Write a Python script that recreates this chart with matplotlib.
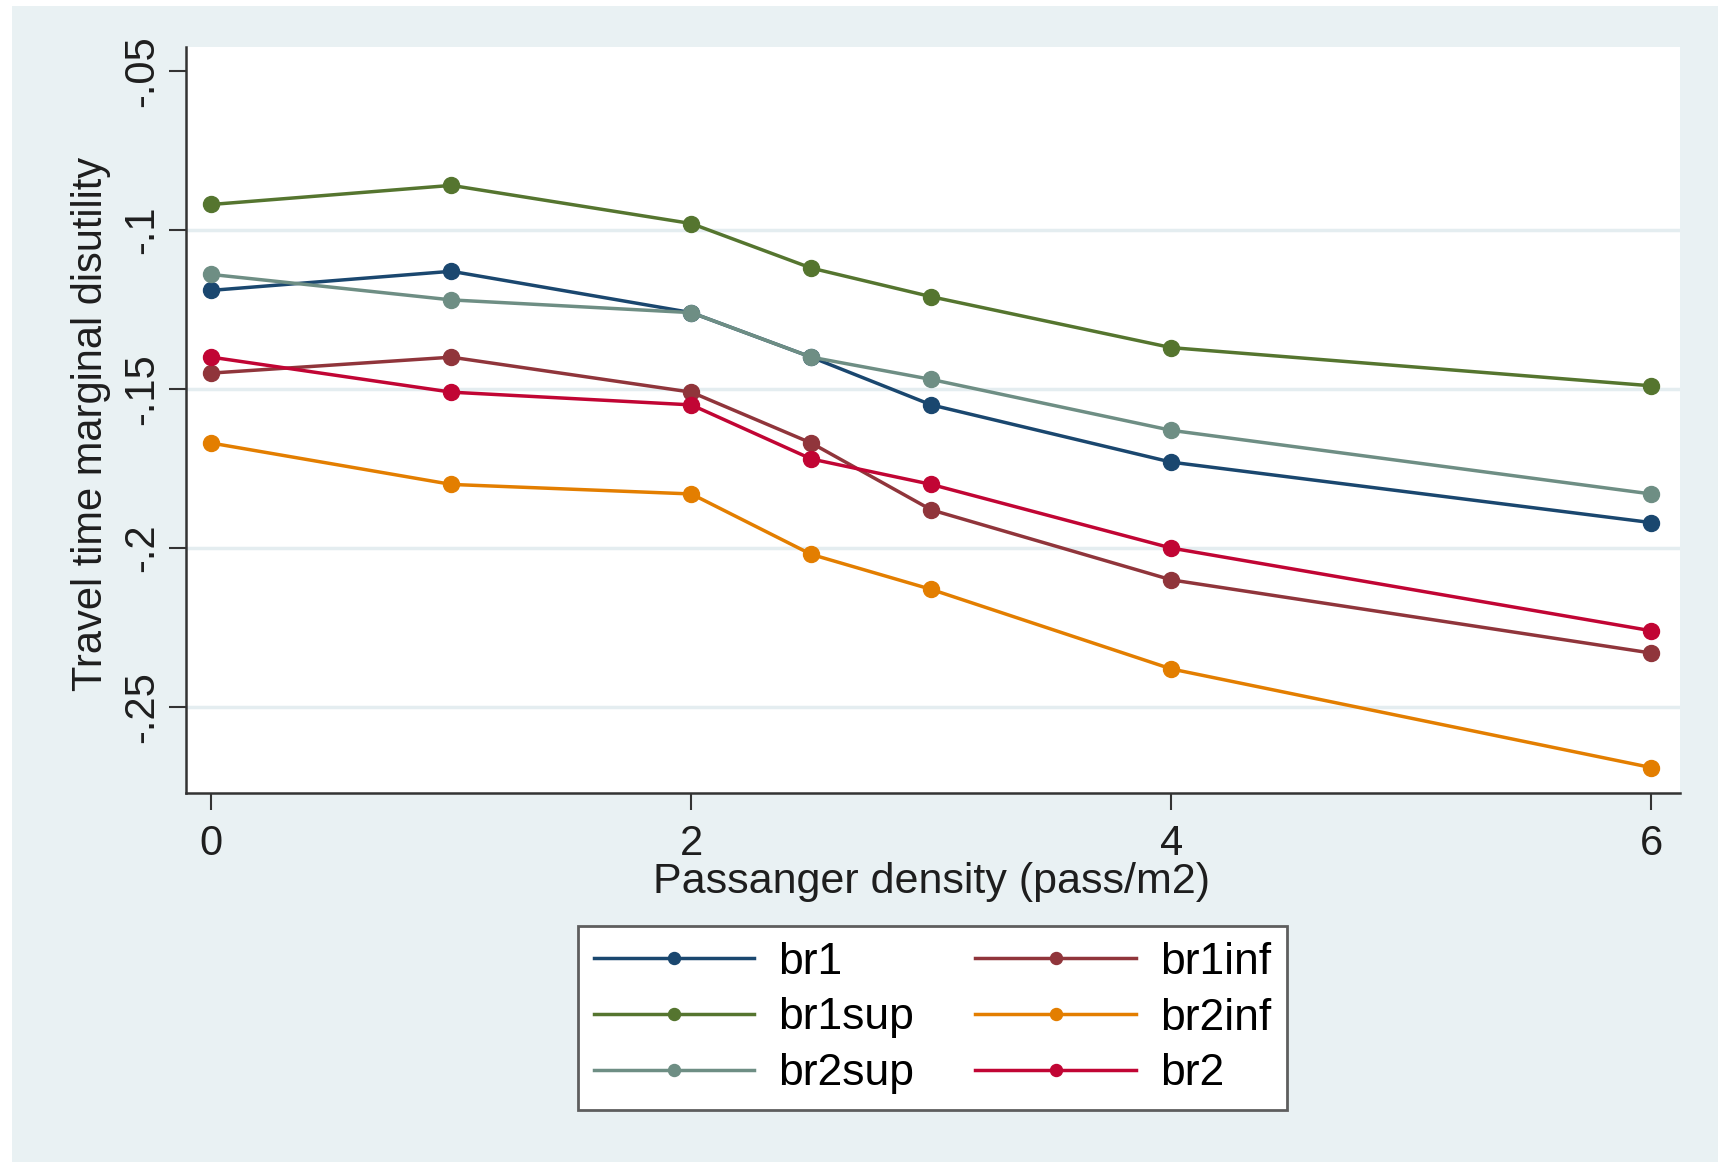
import matplotlib
matplotlib.use("Agg")
import matplotlib.pyplot as plt
from matplotlib.patches import Rectangle

# Passenger density values on the x axis
density = [0, 1, 2, 2.5, 3, 4, 6]

# Travel time marginal disutility for each model
br1 = [-0.119, -0.113, -0.126, -0.140, -0.155, -0.173, -0.192]
br1inf = [-0.145, -0.140, -0.151, -0.167, -0.188, -0.210, -0.233]
br1sup = [-0.092, -0.086, -0.098, -0.112, -0.121, -0.137, -0.149]
br2inf = [-0.167, -0.180, -0.183, -0.202, -0.213, -0.238, -0.269]
br2sup = [-0.114, -0.122, -0.126, -0.140, -0.147, -0.163, -0.183]
br2 = [-0.140, -0.151, -0.155, -0.172, -0.180, -0.200, -0.226]

y_ticks = [-0.05, -0.1, -0.15, -0.2, -0.25]
y_tick_labels = ["-.05", "-.1", "-.15", "-.2", "-.25"]
x_ticks = [0, 2, 4, 6]

plt.rcParams["font.family"] = ["Liberation Sans", "DejaVu Sans"]
fs = 30
txt = "#1E1E1E"
bg = "#E9F1F3"

fig = plt.figure(figsize=(17.18, 11.62), dpi=100)
# outer graph region, kept behind the axes
fig.patches.append(Rectangle((12 / 1718, 0), 1, 1156 / 1162, transform=fig.transFigure,
                             facecolor=bg, edgecolor="none", zorder=-10))

ax = fig.add_axes([186 / 1718, 1 - 793 / 1162, 1494 / 1718, 746 / 1162])
ax.set_facecolor("white")

# light horizontal grid, none at the top label
for yv in y_ticks[1:]:
    ax.axhline(yv, color="#E4EDF0", linewidth=2.5, zorder=1)

# plotted in the same order the legend lists them (two columns)
series = [
    ("br1", br1, "#1A476F"),
    ("br1sup", br1sup, "#55752F"),
    ("br2sup", br2sup, "#6E8E84"),
    ("br1inf", br1inf, "#90353B"),
    ("br2inf", br2inf, "#E37E00"),
    ("br2", br2, "#C10534"),
]
for name, vals, col in series:
    ax.plot(density, vals, color=col, linewidth=2.5, marker="o", markersize=11.5,
            label=name, zorder=3)

ax.set_xlim(-0.106, 6.12)
ax.set_ylim(-0.277, -0.0425)
ax.set_xticks(x_ticks)
ax.set_xticklabels([str(t) for t in x_ticks])
ax.set_yticks(y_ticks)
ax.set_yticklabels(y_tick_labels, rotation=90, va="center")

for side in ["top", "right"]:
    ax.spines[side].set_visible(False)
for side in ["left", "bottom"]:
    ax.spines[side].set_color("#333333")
    ax.spines[side].set_linewidth(1.8)
ax.tick_params(axis="both", direction="out", length=12, width=1.5, color="#333333",
               labelsize=fs, labelcolor=txt)
ax.tick_params(axis="y", pad=5)
ax.tick_params(axis="x", pad=10)

ax.set_xlabel("Passanger density (pass/m2)", fontsize=31, color=txt)
ax.set_ylabel("Travel time marginal disutility", fontsize=fs, color=txt)
ax.xaxis.set_label_coords(0.499, -0.092)
ax.yaxis.set_label_coords(-0.05, 0.495)

leg = ax.legend(ncol=2, loc="center", bbox_to_anchor=(932.5 / 1718, 1 - 1018 / 1162),
                bbox_transform=fig.transFigure, fontsize=32, frameon=True, fancybox=False,
                framealpha=1, handlelength=3.62, handletextpad=0.54, columnspacing=1.37,
                labelspacing=0.33, borderpad=0.36, markerscale=0.75)
leg.get_frame().set_edgecolor("#5E5E5E")
leg.get_frame().set_linewidth(2)
leg.get_frame().set_facecolor("white")

fig.savefig("out.png", dpi=100, facecolor="white")
